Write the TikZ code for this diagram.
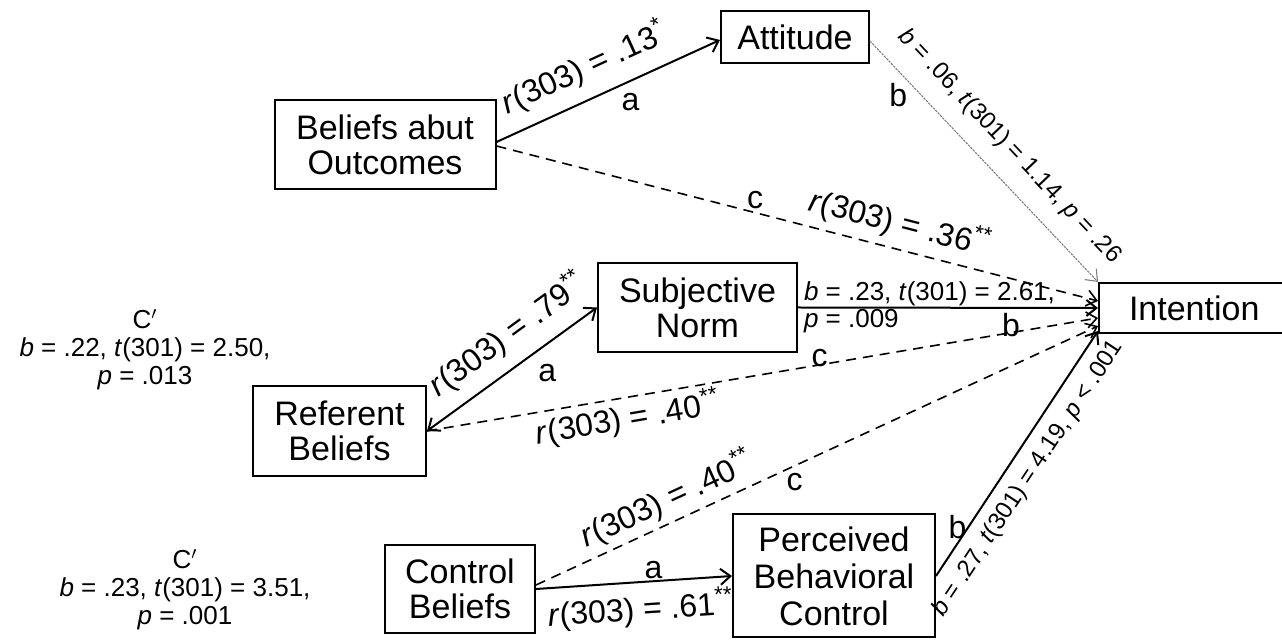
\documentclass[tikz,border=0pt]{standalone}
\usepackage{fontspec}
\setmainfont{Liberation Sans}
\usetikzlibrary{arrows.meta}
\begin{document}
\begin{tikzpicture}[x=0.5pt,y=-0.5pt,
  barb/.tip={Straight Barb[length=5pt,width=8pt]},
  box/.style={draw,line width=1pt,inner sep=0pt,align=center,font=\fontsize{17}{17.5}\selectfont},
  lab/.style={font=\fontsize{16}{18}\selectfont,inner sep=0.5pt,text=black},
  stat/.style={font=\fontsize{13}{15}\selectfont,inner sep=0.5pt,text=black},
  rstat/.style={font=\fontsize{12}{14}\selectfont,inner sep=0.5pt,text=black},
  arr/.style={line width=1pt,-barb},
  dsh/.style={line width=0.8pt,-barb,dash pattern=on 5pt off 3.5pt},
  thinarr/.style={line width=0.55pt,gray,dash pattern=on 1.2pt off 0.5pt,-barb}
]
\useasboundingbox (0,0) rectangle (1282,641);
\fill[white] (0,0) rectangle (1282,641);

\node[box,minimum width=74pt,minimum height=26pt] (att) at (795,37) {Attitude};
\node[box,minimum width=110.5pt,minimum height=44.5pt] (bao) at (385,144.5) {Beliefs abut\\Outcomes};
\node[box,minimum width=99.5pt,minimum height=44.5pt] (sn) at (697.5,307.5) {Subjective\\Norm};
\node[box,minimum width=86.5pt,minimum height=45pt] (rb) at (339.5,431) {Referent\\Beliefs};
\node[box,minimum width=75pt,minimum height=44pt] (cb) at (460,589) {Control\\Beliefs};
\node[box,minimum width=101pt,minimum height=61.5pt,font=\fontsize{17}{18.5}\selectfont] (pbc) at (834,576) {Perceived\\Behavioral\\Control};
\node[box,anchor=west,minimum height=25pt,text width=115pt,align=left] (int) at (1098,308) {\hspace{15pt}Intention};

% Beliefs about outcomes -> Attitude
\draw[arr] ([yshift=1.25pt]bao.east) --
  node[lab,pos=0.45,sloped,above=6pt]{\textit{r}(303) = .13\textsuperscript{*}}
  node[lab,pos=0.6,below=5pt]{a}
  ([yshift=-1.5pt]att.west);
% Beliefs about outcomes -> Intention (c)
\draw[dsh] ([yshift=-0.75pt]bao.east) --
  node[lab,pos=0.43,above=1pt]{c}
  node[lab,pos=0.66,sloped,above=3.5pt]{\textit{r}(303) = .36\textsuperscript{**}}
  ([yshift=3.5pt]int.west);
% Attitude -> Intention (b)
\draw[thinarr] ([yshift=-2pt]att.east) --
  node[lab,pos=0.17,anchor=north east]{b}
  node[rstat,pos=0.52,sloped,above=8pt]{\textit{b} = .06, \textit{t}(301) = 1.14, \textit{p} = .26}
  (int.north west);
% Subjective norm -> Intention (b)
\draw[arr] (sn.east) --
  node[stat,pos=0,anchor=south west,xshift=2pt]{\textit{b} = .23, \textit{t}(301) = 2.61,}
  node[stat,pos=0,anchor=north west,xshift=2pt]{\textit{p} = .009}
  node[lab,pos=0.71,below=1.5pt]{b}
  (int.west);
% Referent beliefs -> Subjective norm (a)
\draw[line width=1pt,barb-barb] (rb.east) --
  node[lab,pos=0.58,sloped,above=5.7pt]{\textit{r}(303) = .79\textsuperscript{**}}
  node[lab,pos=0.62,anchor=north west,xshift=2pt,yshift=-4pt]{a}
  (sn.west);
% Referent beliefs -> Intention (c)
\draw[dsh] (rb.east) --
  node[lab,pos=0.585,above=-2pt]{c}
  node[lab,pos=0.294,sloped,below=1pt]{\textit{r}(303) = .40\textsuperscript{**}}
  ([yshift=-5pt]int.west);
% Control beliefs -> PBC (a)
\draw[arr] (cb.east) --
  node[lab,pos=0.6,above=0pt]{a}
  node[lab,pos=0.525,sloped,below=4pt]{\textit{r}(303) = .61\textsuperscript{**}}
  (pbc.west);
% Control beliefs -> Intention (c)
\draw[dsh] ([yshift=2pt]cb.east) --
  node[lab,pos=0.25,sloped,above=2pt]{\textit{r}(303) = .40\textsuperscript{**}}
  node[lab,pos=0.455,below=2pt,xshift=1.5pt]{c}
  ([yshift=-9pt]int.west);
% PBC -> Intention (b)
\draw[arr] (pbc.east) --
  node[lab,pos=0.2,left=0pt]{b}
  node[rstat,pos=0.45,sloped,below=5pt]{\textit{b} = .27, \textit{t}(301) = 4.19, \textit{p} < .001}
  ([yshift=-11.5pt]int.west);

% direct effects
\node[stat,align=center,font=\fontsize{13}{14}\selectfont] (cp1) at (145,350)
  {C$^{\prime}$\\\textit{b} = .22, \textit{t}(301) = 2.50,\\\textit{p} = .013};
\node[stat,align=center,font=\fontsize{13}{14}\selectfont] (cp2) at (185,590)
  {C$^{\prime}$\\\textit{b} = .23, \textit{t}(301) = 3.51,\\\textit{p} = .001};
\end{tikzpicture}
\end{document}
